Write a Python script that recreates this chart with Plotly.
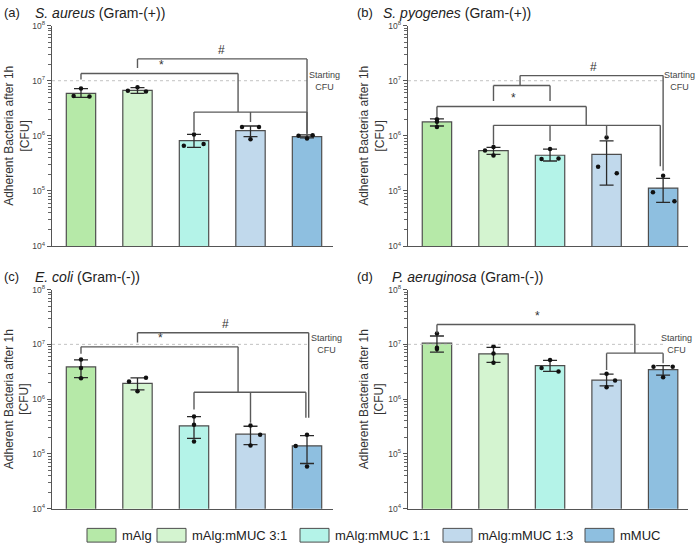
import math
import plotly.graph_objects as go

# ---------------- data ----------------
groups = ["mAlg", "mAlg:mMUC 3:1", "mAlg:mMUC 1:1", "mAlg:mMUC 1:3", "mMUC"]
bar_colors = ["#b6e9a8", "#d4f4d0", "#b4f3e8", "#c1d9ec", "#8ebfe0"]
positions = [0, 1, 2, 3, 4]
starting_cfu = 1e7

y_tick_vals = [1e4, 1e5, 1e6, 1e7, 1e8]
y_tick_text = ["10<sup>4</sup>", "10<sup>5</sup>", "10<sup>6</sup>", "10<sup>7</sup>", "10<sup>8</sup>"]

panel_letters = ["(a)", "(b)", "(c)", "(d)"]
panel_species = ["S. aureus", "S. pyogenes", "E. coli", "P. aeruginosa"]
panel_gram = ["(Gram-(+))", "(Gram-(+))", "(Gram-(-))", "(Gram-(-))"]

# (a) S. aureus
a_mean = [5.9e6, 6.7e6, 8.2e5, 1.24e6, 9.7e5]
a_hi = [7.2e6, 7.5e6, 1.06e6, 1.51e6, 1.04e6]
a_lo = [5.0e6, 5.9e6, 6.2e5, 9.7e5, 9.2e5]
a_pts = [[5.3e6, 7.2e6, 5.2e6], [6.6e6, 7.6e6, 6.4e6], [6.6e5, 1.06e6, 7.1e5],
         [1.45e6, 8.7e5, 1.45e6], [1.0e6, 9.0e5, 1.03e6]]
a_dx = [[-0.13, 0, 0.15], [-0.17, 0, 0.15], [-0.18, 0, 0.17], [-0.15, 0, 0.15], [-0.15, 0, 0.1]]

# (b) S. pyogenes
b_mean = [1.79e6, 5.4e5, 4.45e5, 4.6e5, 1.13e5]
b_hi = [2.04e6, 6.2e5, 5.75e5, 8.1e5, 1.7e5]
b_lo = [1.51e6, 4.6e5, 3.5e5, 1.28e5, 6.2e4]
b_pts = [[2.0e6, 1.8e6, 1.45e6], [5.4e5, 6.3e5, 4.4e5], [3.8e5, 5.8e5, 3.9e5],
         [2.75e5, 9.3e5, 2.1e5], [9.5e4, 1.88e5, 6.5e4]]
b_dx = [[0, 0, 0], [-0.15, 0, 0], [-0.15, 0, 0.15], [-0.15, 0, 0.18], [-0.18, 0, 0.2]]

# (c) E. coli
c_mean = [3.87e6, 1.94e6, 3.26e5, 2.3e5, 1.41e5]
c_hi = [5.2e6, 2.45e6, 4.8e5, 3.2e5, 2.16e5]
c_lo = [2.48e6, 1.48e6, 1.93e5, 1.48e5, 6.7e4]
c_pts = [[5.3e6, 3.7e6, 2.4e6], [2.1e6, 1.4e6, 2.45e6], [4.8e5, 3.4e5, 1.69e5],
         [3.3e5, 2.25e5, 1.42e5], [2.25e5, 1.4e5, 5.9e4]]
c_dx = [[0, 0, 0], [-0.15, 0, 0.15], [0, 0, 0], [0, 0.17, 0], [0, -0.2, 0]]

# (d) P. aeruginosa
d_mean = [1.05e7, 6.7e6, 4.1e6, 2.22e6, 3.45e6]
d_hi = [1.42e7, 8.8e6, 5.1e6, 2.85e6, 4.1e6]
d_lo = [7.2e6, 4.7e6, 3.2e6, 1.74e6, 2.74e6]
d_pts = [[1.57e7, 8.7e6, 8.2e6], [9.2e6, 6.8e6, 4.6e6], [5.2e6, 3.7e6, 3.2e6],
         [2.9e6, 2.2e6, 1.65e6], [3.9e6, 3.9e6, 2.5e6]]
d_dx = [[0, 0, 0], [0, 0, 0], [0, -0.15, 0.15], [0, 0.15, 0], [-0.17, 0.17, 0]]

# significance brackets: (bar level, [(x, leg end), ...])
a_brackets = [(1.35e7, [(0, 1.05e7), (2.78, 2.7e6)]),
              (2.7e6, [(2, 1.19e6), (3, 1.78e6), (4, 1.1e6)]),
              (2.49e7, [(1, 1.7e7), (4, 1.04e6)])]
a_marks = [("*", 1.42, 1.35e7), ("#", 2.49, 2.49e7)]

b_brackets = [(1.24e7, [(1.47, 8.2e6), (4.0, 2.34e5)]),
              (8.2e6, [(1, 4.3e6), (2, 4.3e6)]),
              (3.4e6, [(0, 2.2e6), (2.64, 1.55e6)]),
              (1.55e6, [(1, 6.9e5), (2, 8.1e5), (3, 9.7e5), (3.95, 2.8e5)])]
b_marks = [("#", 2.77, 1.24e7), ("*", 1.36, 3.4e6)]

c_brackets = [(1.63e7, [(1, 1.08e7), (4.03, 4.6e5)]),
              (9.0e6, [(0, 6.7e6), (2.78, 1.34e6)]),
              (1.34e6, [(2, 6.5e5), (3, 3.7e5), (3.98, 4.6e5)])]
c_marks = [("#", 2.55, 1.63e7), ("*", 1.41, 9.0e6)]

d_brackets = [(2.3e7, [(0, 1.6e7), (3.5, 6.9e6)]),
              (6.9e6, [(3, 3.4e6), (4, 4.5e6)])]
d_marks = [("*", 1.77, 2.3e7)]

start_label_x = [4.31, 4.29, 4.35, 4.23]

# minor tick positions of the log axis (2..9 within each decade)
minor_tick_vals = [m * 10 ** e for e in range(4, 8) for m in range(2, 10)]

# ---------------- layout geometry (pixels) ----------------
W, H = 696, 552
x_dom_px = [(52, 333), (408, 688), (52, 333), (408, 688)]
y_dom_px = [(20, 245), (20, 245), (289.3, 513), (289.3, 513)]
x_ranges = [(-0.513, 4.46), (-0.512, 4.44), (-0.513, 4.46), (-0.512, 4.44)]
title_px = [(2, 33, 7), (355, 381, 7), (2, 33, 276), (355, 390, 276)]
ytitle_px = [17, 372, 17, 372]

FONT = "Liberation Sans, Arial, sans-serif"
LINE = "#5a5a5a"

panels = [
    (a_mean, a_hi, a_lo, a_pts, a_dx, a_brackets, a_marks),
    (b_mean, b_hi, b_lo, b_pts, b_dx, b_brackets, b_marks),
    (c_mean, c_hi, c_lo, c_pts, c_dx, c_brackets, c_marks),
    (d_mean, d_hi, d_lo, d_pts, d_dx, d_brackets, d_marks),
]

fig = go.Figure()
annotations = []
shapes = []

def px2paper_x(x):
    return x / W

def px2paper_y(y):
    return 1 - y / H

for i, (mean, hi, lo, pts, dx, brackets, marks) in enumerate(panels):
    sfx = "" if i == 0 else str(i + 1)
    xa, ya = "x" + sfx, "y" + sfx

    fig.add_trace(go.Bar(
        x=positions, y=mean, width=0.52,
        marker=dict(color=bar_colors, line=dict(color="#4d4d4d", width=1.2)),
        error_y=dict(type="data", symmetric=False,
                     array=[h - m for h, m in zip(hi, mean)],
                     arrayminus=[m - l for m, l in zip(mean, lo)],
                     color="#2a2a2a", thickness=1.3, width=7),
        xaxis=xa, yaxis=ya, showlegend=False, hoverinfo="skip"))

    # individual data points
    px_, py_ = [], []
    for k in range(len(positions)):
        for j in range(len(pts[k])):
            px_.append(positions[k] + dx[k][j])
            py_.append(pts[k][j])
    fig.add_trace(go.Scatter(x=px_, y=py_, mode="markers",
                             marker=dict(color="#111111", size=4.5),
                             xaxis=xa, yaxis=ya, showlegend=False, hoverinfo="skip"))

    # starting CFU line
    fig.add_trace(go.Scatter(x=[x_ranges[i][0], 4.0], y=[starting_cfu, starting_cfu],
                             mode="lines", line=dict(color="#c2c2c2", width=1, dash="dot"),
                             xaxis=xa, yaxis=ya, showlegend=False, hoverinfo="skip"))
    annotations.append(dict(x=start_label_x[i], y=math.log10(starting_cfu), xref=xa, yref=ya,
                            text="Starting<br>CFU", showarrow=False, align="center",
                            xanchor="center", yanchor="middle",
                            font=dict(family=FONT, size=9, color="#444444")))

    # brackets
    bx, by = [], []
    for level, legs in brackets:
        xs = [l[0] for l in legs]
        bx += [min(xs), max(xs), None]
        by += [level, level, None]
        for lx, lend in legs:
            bx += [lx, lx, None]
            by += [level, lend, None]
    fig.add_trace(go.Scatter(x=bx, y=by, mode="lines",
                             line=dict(color=LINE, width=1.4),
                             xaxis=xa, yaxis=ya, showlegend=False, hoverinfo="skip"))
    for txt, mx, my in marks:
        annotations.append(dict(x=mx, y=math.log10(my), xref=xa, yref=ya, text=txt,
                                showarrow=False, xanchor="center", yanchor="bottom", yshift=0,
                                font=dict(family=FONT, size=12, color="#333333")))

    # axes
    x0, x1 = x_dom_px[i]
    y0, y1 = y_dom_px[i]
    xkey = "xaxis" + sfx
    ykey = "yaxis" + sfx
    fig.layout[xkey] = dict(domain=[px2paper_x(x0), px2paper_x(x1)], range=list(x_ranges[i]),
                            showticklabels=False, ticks="", showgrid=False, zeroline=False,
                            showline=True, linecolor="#555555", linewidth=1.3,
                            anchor=ya, fixedrange=True)
    fig.layout[ykey] = dict(domain=[px2paper_y(y1), px2paper_y(y0)], type="log", range=[4, 8],
                            tickmode="array", tickvals=y_tick_vals, ticktext=y_tick_text,
                            ticks="outside", ticklen=4, tickwidth=1, tickcolor="#555555",
                            minor=dict(tickmode="array", tickvals=minor_tick_vals,
                                       ticks="outside", ticklen=2.5, tickwidth=0.8,
                                       tickcolor="#666666", showgrid=False),
                            tickfont=dict(family=FONT, size=8.5, color="#444444"),
                            showgrid=False, zeroline=False, showline=True,
                            linecolor="#555555", linewidth=1.3, anchor=xa, fixedrange=True)

    # panel titles
    lx, tx, ty = title_px[i]
    annotations.append(dict(x=px2paper_x(lx), y=px2paper_y(ty), xref="paper", yref="paper",
                            text=panel_letters[i], showarrow=False, xanchor="left",
                            yanchor="middle", font=dict(family=FONT, size=13, color="#222222")))
    annotations.append(dict(x=px2paper_x(tx), y=px2paper_y(ty), xref="paper", yref="paper",
                            text="<i>" + panel_species[i] + "</i> " + panel_gram[i],
                            showarrow=False, xanchor="left", yanchor="middle",
                            font=dict(family=FONT, size=14, color="#222222")))
    # y axis title
    annotations.append(dict(x=px2paper_x(ytitle_px[i]), y=px2paper_y((y0 + y1) / 2),
                            xref="paper", yref="paper",
                            text="Adherent Bacteria after 1h<br>[CFU]", textangle=-90,
                            showarrow=False, align="center", xanchor="center", yanchor="middle",
                            font=dict(family=FONT, size=12, color="#333333")))

# ---------------- legend (manual) ----------------
legend_box_px = [87, 157, 300, 443, 585]
box_w, box_y0, box_y1 = 29, 533, 547
for k, name in enumerate(groups):
    bx0 = legend_box_px[k]
    shapes.append(dict(type="rect", xref="paper", yref="paper",
                       x0=px2paper_x(bx0), x1=px2paper_x(bx0 + box_w),
                       y0=px2paper_y(box_y1), y1=px2paper_y(box_y0),
                       fillcolor=bar_colors[k], line=dict(color="#4d4d4d", width=1)))
    annotations.append(dict(x=px2paper_x(bx0 + box_w + 4), y=px2paper_y((box_y0 + box_y1) / 2),
                            xref="paper", yref="paper", text=name, showarrow=False,
                            xanchor="left", yanchor="middle",
                            font=dict(family=FONT, size=13, color="#222222")))

fig.update_layout(width=W, height=H, margin=dict(l=0, r=0, t=0, b=0),
                  paper_bgcolor="white", plot_bgcolor="white",
                  showlegend=False, annotations=annotations, shapes=shapes,
                  font=dict(family=FONT))

fig.write_html("out.html")
